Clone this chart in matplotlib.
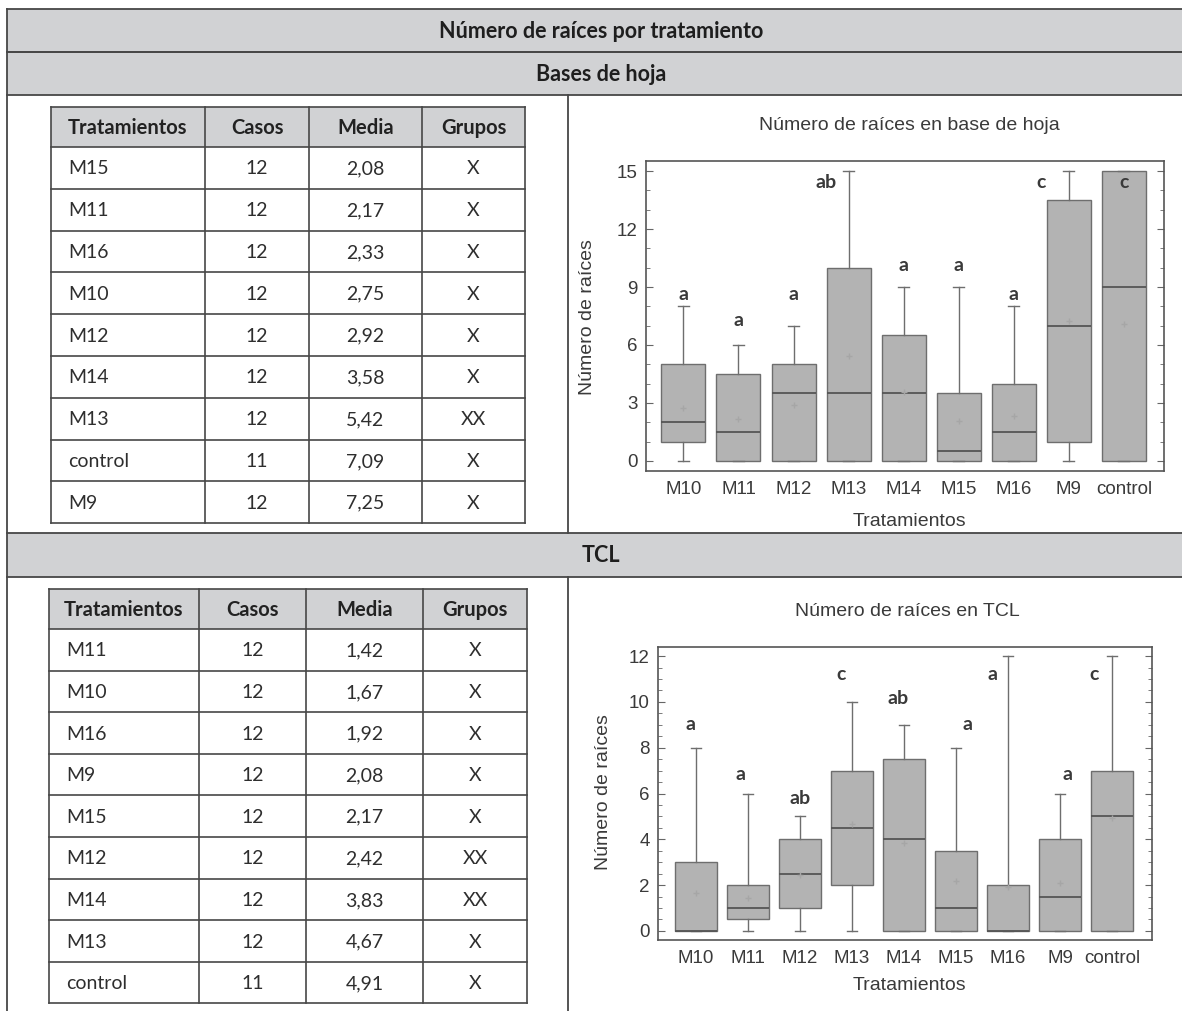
import matplotlib
matplotlib.use('Agg')
import matplotlib.pyplot as plt
from matplotlib.patches import Rectangle
from matplotlib.ticker import MultipleLocator

W, H = 1182, 1011

# categorias del eje x (ambos graficos)
tratamientos = ['M10', 'M11', 'M12', 'M13', 'M14', 'M15', 'M16', 'M9', 'control']

# --- Bases de hoja: tabla
hoja_trat = ['M15', 'M11', 'M16', 'M10', 'M12', 'M14', 'M13', 'control', 'M9']
hoja_casos = ['12', '12', '12', '12', '12', '12', '12', '11', '12']
hoja_media = ['2,08', '2,17', '2,33', '2,75', '2,92', '3,58', '5,42', '7,09', '7,25']
hoja_grupos = ['X', 'X', 'X', 'X', 'X', 'X', 'XX', 'X', 'X']

# --- Bases de hoja: cajas (orden de tratamientos)
hoja_q1 = [1, 0, 0, 0, 0, 0, 0, 1, 0]
hoja_med = [2, 1.5, 3.5, 3.5, 3.5, 0.5, 1.5, 7, 9]
hoja_q3 = [5, 4.5, 5, 10, 6.5, 3.5, 4, 13.5, 15]
hoja_lo = [0, 0, 0, 0, 0, 0, 0, 0, 0]
hoja_hi = [8, 6, 7, 15, 9, 9, 8, 15, 15]
hoja_letras = ['a', 'a', 'a', 'ab', 'a', 'a', 'a', 'c', 'c']

# --- TCL: tabla
tcl_trat = ['M11', 'M10', 'M16', 'M9', 'M15', 'M12', 'M14', 'M13', 'control']
tcl_casos = ['12', '12', '12', '12', '12', '12', '12', '12', '11']
tcl_media = ['1,42', '1,67', '1,92', '2,08', '2,17', '2,42', '3,83', '4,67', '4,91']
tcl_grupos = ['X', 'X', 'X', 'X', 'X', 'XX', 'XX', 'X', 'X']

# --- TCL: cajas
tcl_q1 = [0, 0.5, 1, 2, 0, 0, 0, 0, 0]
tcl_med = [0, 1, 2.5, 4.5, 4, 1, 0, 1.5, 5]
tcl_q3 = [3, 2, 4, 7, 7.5, 3.5, 2, 4, 7]
tcl_lo = [0, 0, 0, 0, 0, 0, 0, 0, 0]
tcl_hi = [8, 6, 5, 10, 9, 8, 12, 6, 12]
tcl_letras = ['a', 'a', 'ab', 'c', 'ab', 'a', 'a', 'a', 'c']

# posiciones de las letras (x desplazada, y)
hoja_letra_dx = [0, 0, 0, -0.4, 0, 0, 0, -0.5, 0]
hoja_letra_y = [8.6, 7.25, 8.6, 14.4, 10.1, 10.1, 8.6, 14.4, 14.4]
tcl_letra_dx = [-0.1, -0.14, 0, -0.2, -0.12, 0.23, -0.3, 0.15, -0.34]
tcl_letra_y = [9.0, 6.85, 5.8, 11.2, 10.15, 9.0, 11.2, 6.85, 11.2]

GRAY = '#d1d2d4'
LINE = '#474747'
TFONT = 'Lato'
PFONT = 'Liberation Sans'
PTXT = '#3a3a3a'


def to_float(s):
	return float(s.replace(',', '.'))


def draw_table(ov, cols, top, head_h, row_h, trat, casos, media, grupos):
	ncol = len(cols) - 1
	ov.add_patch(Rectangle((cols[0], top), cols[-1] - cols[0], head_h,
		facecolor=GRAY, edgecolor='none'))
	heads = ['Tratamientos', 'Casos', 'Media', 'Grupos']
	for j in range(ncol):
		ov.text((cols[j] + cols[j + 1]) / 2, top + head_h / 2 + 1, heads[j],
			ha='center', va='center', fontsize=14.5, fontweight='bold',
			family=TFONT, color='#222')
	bottom = top + head_h + row_h * len(trat)
	ys = [top, top + head_h] + [top + head_h + row_h * (i + 1) for i in range(len(trat))]
	for y in ys:
		ov.plot([cols[0], cols[-1]], [y, y], color=LINE, lw=1.2)
	for x in cols:
		ov.plot([x, x], [top, bottom], color=LINE, lw=1.2)
	for i in range(len(trat)):
		yc = top + head_h + row_h * (i + 0.5) + 1
		ov.text(cols[0] + 17, yc, trat[i], ha='left', va='center',
			fontsize=14, family=TFONT, color='#2e2e2e')
		for j, val in enumerate([casos[i], media[i], grupos[i]]):
			ov.text((cols[j + 1] + cols[j + 2]) / 2, yc, val, ha='center',
				va='center', fontsize=14, family=TFONT, color='#2e2e2e')


def draw_box(ax, q1, med, q3, lo, hi, means, letras, dx, ly):
	stats = []
	for i, name in enumerate(tratamientos):
		stats.append(dict(q1=q1[i], med=med[i], q3=q3[i], whislo=lo[i],
			whishi=hi[i], mean=means[i], fliers=[], label=name))
	ax.bxp(stats, positions=range(len(stats)), widths=0.8, patch_artist=True,
		showmeans=True, capwidths=0.2,
		boxprops=dict(facecolor='#b3b3b3', edgecolor='#6e6e6e', linewidth=1.0),
		medianprops=dict(color='#555555', linewidth=1.3),
		whiskerprops=dict(color='#6e6e6e', linewidth=1.0),
		capprops=dict(color='#6e6e6e', linewidth=1.0),
		meanprops=dict(marker='+', markeredgecolor='#a6a6a6', markersize=4))
	for i, t in enumerate(letras):
		ax.text(i + dx[i], ly[i], t, ha='center', va='center', fontsize=14,
			fontweight='bold', family=TFONT, color='#3a3a3a')
	for s in ax.spines.values():
		s.set_color('#555555')
		s.set_linewidth(1.2)
	ax.tick_params(axis='y', which='both', direction='in', left=True, right=True,
		colors='#666666', labelcolor=PTXT, labelsize=13.5, pad=6)
	ax.tick_params(axis='y', which='major', length=5)
	ax.tick_params(axis='y', which='minor', length=3)
	ax.tick_params(axis='x', length=0, labelsize=13.5, labelcolor=PTXT, pad=7)
	for lab in ax.get_xticklabels() + ax.get_yticklabels():
		lab.set_family(PFONT)


fig = plt.figure(figsize=(W / 100, H / 100), dpi=100)
ov = fig.add_axes([0, 0, 1, 1], zorder=0)
ov.set_xlim(0, W)
ov.set_ylim(H, 0)
ov.set_axis_off()

# bandas grises
for y0, y1, txt in [(9, 52, 'Número de raíces por tratamiento'),
		(52, 95, 'Bases de hoja'), (533, 577, 'TCL')]:
	ov.add_patch(Rectangle((7, y0), W - 7, y1 - y0, facecolor=GRAY, edgecolor='none'))
	ov.plot([7, W], [y0, y0], color=LINE, lw=1.3)
	ov.plot([7, W], [y1, y1], color=LINE, lw=1.3)
	ov.text(601, (y0 + y1) / 2 + 1, txt, ha='center', va='center', fontsize=15.5,
		fontweight='bold', family=TFONT, color='#1e1e1e')
ov.plot([7, 7], [9, H], color=LINE, lw=1.3)
ov.plot([568, 568], [95, 533], color=LINE, lw=1.3)
ov.plot([568, 568], [577, H], color=LINE, lw=1.3)

draw_table(ov, [51, 205, 309, 422, 525], 107, 40, 41.8,
	hoja_trat, hoja_casos, hoja_media, hoja_grupos)
draw_table(ov, [49, 199, 306, 423, 527], 589, 40, 41.6,
	tcl_trat, tcl_casos, tcl_media, tcl_grupos)

hoja_mean = dict(zip(hoja_trat, [to_float(m) for m in hoja_media]))
tcl_mean = dict(zip(tcl_trat, [to_float(m) for m in tcl_media]))

# grafico 1
ax1 = fig.add_axes([646 / W, 1 - 471 / H, 518 / W, 310 / H], zorder=2)
draw_box(ax1, hoja_q1, hoja_med, hoja_q3, hoja_lo, hoja_hi,
	[hoja_mean[t] for t in tratamientos], hoja_letras, hoja_letra_dx, hoja_letra_y)
ax1.set_xlim(-0.68, 8.73)
ax1.set_ylim(-0.52, 15.52)
ax1.yaxis.set_major_locator(MultipleLocator(3))
ax1.yaxis.set_minor_locator(MultipleLocator(1))

# grafico 2
ax2 = fig.add_axes([658 / W, 1 - 940 / H, 494 / W, 293 / H], zorder=2)
draw_box(ax2, tcl_q1, tcl_med, tcl_q3, tcl_lo, tcl_hi,
	[tcl_mean[t] for t in tratamientos], tcl_letras, tcl_letra_dx, tcl_letra_y)
ax2.set_xlim(-0.73, 8.77)
ax2.set_ylim(-0.4, 12.4)
ax2.yaxis.set_major_locator(MultipleLocator(2))
ax2.yaxis.set_minor_locator(MultipleLocator(0.5))

for x, y, txt, rot in [(909, 125, 'Número de raíces en base de hoja', 0),
		(909, 522, 'Tratamientos', 0), (588, 317, 'Número de raíces', 90),
		(907, 612, 'Número de raíces en TCL', 0),
		(909, 985, 'Tratamientos', 0), (604, 792, 'Número de raíces', 90)]:
	ov.text(x, y, txt, ha='center', va='center', rotation=rot, fontsize=14,
		family=PFONT, color=PTXT)

fig.savefig('out.png', dpi=100)
